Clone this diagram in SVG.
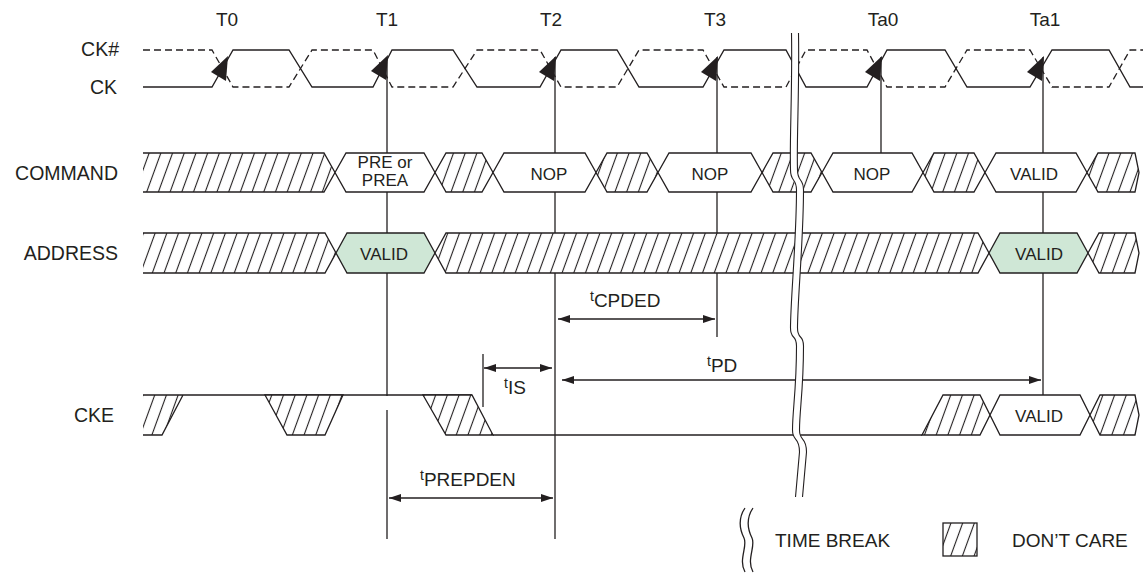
<svg xmlns="http://www.w3.org/2000/svg" width="1143" height="573" viewBox="0 0 1143 573">
<style>
text{font-family:"Liberation Sans",Arial,sans-serif;fill:#231f20}
.lbl{font-size:19px}
.sig{font-size:19.5px;text-anchor:end}
.box{font-size:17px;text-anchor:middle}
.ln{stroke:#231f20;stroke-width:1.3;fill:none}
.hx{fill:url(#hatch);stroke:#231f20;stroke-width:1.3}
.wb{fill:#fff;stroke:#231f20;stroke-width:1.3}
.gb{fill:#cfe7d6;stroke:#231f20;stroke-width:1.3}
.dim{stroke:#231f20;stroke-width:1.3;fill:none;marker-start:url(#ah);marker-end:url(#ah)}
.ar{fill:#231f20}
</style>
<defs>
<pattern id="hatch" patternUnits="userSpaceOnUse" width="11" height="11" patternTransform="rotate(20)">
<rect width="11" height="11" fill="#fff"/>
<line x1="5.5" y1="0" x2="5.5" y2="11" stroke="#231f20" stroke-width="1.1"/>
</pattern>
<marker id="ah" viewBox="0 0 12 8" refX="12" refY="4" markerWidth="12" markerHeight="8" markerUnits="userSpaceOnUse" orient="auto-start-reverse">
<path d="M0,0 L12,4 L0,8 z" fill="#231f20"/>
</marker>
<path id="brk" d="M795,33 C796,90 793,140 794,170 C794,182 800,178 800,190 C800,240 794,300 794,328 C794,340 800,334 800,346 C800,390 796,410 796,430 C796,442 803,436 803,452 L799,497" fill="none"/>
</defs>
<rect width="1143" height="573" fill="#fff"/>

<g id="time-labels" class="lbl" text-anchor="middle">
<text x="227" y="26">T0</text>
<text x="387" y="26">T1</text>
<text x="551" y="26">T2</text>
<text x="715" y="26">T3</text>
<text x="883" y="26">Ta0</text>
<text x="1045" y="26">Ta1</text>
</g>

<g id="signal-labels" class="sig">
<text x="119" y="56">CK#</text>
<text x="117" y="94">CK</text>
<text x="118" y="180">COMMAND</text>
<text x="118" y="260">ADDRESS</text>
<text x="114" y="422">CKE</text>
</g>

<g id="connectors">
<path class="ln" d="M387,57 V396 M387,410 V539"/>
<path class="ln" d="M555,57 V539"/>
<path class="ln" d="M717,57 V337"/>
<path class="ln" d="M881,57 V153"/>
<path class="ln" d="M1043,57 V395"/>
<path class="ln" d="M483,354 V407"/>
<path class="dim" d="M558,319 H715"/>
<path class="dim" d="M562,380 H1041"/>
<path class="dim" d="M484,368 H552"/>
<path class="dim" d="M389,498 H553"/>
</g>

<g id="clock">
<path class="ln" d="M143,87 H212 L233,50 H289 L312,87 H373 L392,50 H453 L477,87 H540 L561,50 H617 L639,87 H703 L724,50 H786 L806,87 H867 L887,50 H945 L967,87 H1030 L1052,50 H1109 L1130,87 H1143"/>
<path class="ln" stroke-dasharray="7,4" d="M143,50 H212 L233,87 H289 L312,50 H373 L392,87 H453 L477,50 H540 L561,87 H617 L639,50 H703 L724,87 H786 L806,50 H867 L887,87 H945 L967,50 H1030 L1052,87 H1109 L1130,50 H1143"/>
<polygon class="ar" points="228,56 211,72 226,81"/>
<polygon class="ar" points="388,55 371,71 386,80"/>
<polygon class="ar" points="556,56 539,72 554,81"/>
<polygon class="ar" points="718,56 701,72 716,81"/>
<polygon class="ar" points="882,56 865,72 880,81"/>
<polygon class="ar" points="1044,56 1027,72 1042,81"/>
</g>

<g id="command">
<polygon points="143,153 324,153 335,172.5 324,192 143,192" fill="url(#hatch)"/>
<polyline class="ln" points="143,153 324,153 335,172.5 324,192 143,192"/>
<polygon class="wb" points="335,172.5 346,153 424,153 435,172.5 424,192 346,192"/>
<polygon class="hx" points="435,172.5 446,153 482,153 493,172.5 482,192 446,192"/>
<polygon class="wb" points="493,172.5 504,153 585,153 596,172.5 585,192 504,192"/>
<polygon class="hx" points="596,172.5 607,153 647,153 658,172.5 647,192 607,192"/>
<polygon class="wb" points="658,172.5 669,153 751,153 762,172.5 751,192 669,192"/>
<polygon class="hx" points="762,172.5 773,153 811,153 822,172.5 811,192 773,192"/>
<polygon class="wb" points="822,172.5 833,153 912,153 923,172.5 912,192 833,192"/>
<polygon class="hx" points="923,172.5 934,153 974,153 985,172.5 974,192 934,192"/>
<polygon class="wb" points="985,172.5 996,153 1076,153 1087,172.5 1076,192 996,192"/>
<polygon class="hx" points="1087,172.5 1098,153 1135,153 1139,172.5 1135,192 1098,192"/>
<text class="box" x="385" font-size="15"><tspan x="385" y="168">PRE or</tspan><tspan x="385" y="186">PREA</tspan></text>
<text class="box" x="549" y="180">NOP</text>
<text class="box" x="710" y="180">NOP</text>
<text class="box" x="872" y="180">NOP</text>
<text class="box" x="1034" y="180">VALID</text>
</g>

<g id="address">
<polygon points="143,233 325,233 336,253 325,273 143,273" fill="url(#hatch)"/>
<polyline class="ln" points="143,233 325,233 336,253 325,273 143,273"/>
<polygon class="gb" points="336,253 347,233 424,233 435,253 424,273 347,273"/>
<polygon class="hx" points="435,253 446,233 978,233 989,253 978,273 446,273"/>
<polygon class="gb" points="989,253 1000,233 1077,233 1088,253 1077,273 1000,273"/>
<polygon class="hx" points="1088,253 1099,233 1135,233 1139,253 1135,273 1099,273"/>
<text class="box" x="384" y="260">VALID</text>
<text class="box" x="1039" y="260">VALID</text>
</g>

<g id="cke">
<polygon points="143,395 183,395 162,435 143,435" fill="url(#hatch)"/>
<path class="ln" d="M143,395 H472 M183,395 L162,435 H143"/>
<polygon class="hx" points="265,395 343,395 325,435 287,435"/>
<polygon class="hx" points="423,395 472,395 493,435 446,435"/>
<path class="ln" d="M493,435 H922"/>
<polygon class="hx" points="922,435 943,395 980,395 990,415 980,435"/>
<polygon class="wb" points="990,415 1000,395 1080,395 1090,415 1080,435 1000,435"/>
<polygon class="hx" points="1090,415 1100,395 1135,395 1139,415 1135,435 1100,435"/>
<text class="box" x="1039" y="422">VALID</text>
</g>

<g id="timing-labels" class="lbl">
<text x="590" y="307"><tspan font-size="14" dy="-6">t</tspan><tspan dy="6">CPDED</tspan></text>
<text x="707" y="372"><tspan font-size="14" dy="-6">t</tspan><tspan dy="6">PD</tspan></text>
<text x="504" y="394"><tspan font-size="14" dy="-6">t</tspan><tspan dy="6">IS</tspan></text>
<text x="420" y="486"><tspan font-size="14" dy="-6">t</tspan><tspan dy="6">PREPDEN</tspan></text>
</g>

<g id="time-break">
<use href="#brk" stroke="#fff" stroke-width="7"/>
<use href="#brk" transform="translate(-3.5,0)" stroke="#231f20" stroke-width="1.1"/>
<use href="#brk" transform="translate(3.5,0)" stroke="#231f20" stroke-width="1.1"/>
</g>

<g id="legend">
<path class="ln" stroke-width="1.1" d="M745,508 C737,520 740,530 744,538 C748,546 738,560 745,572 M753,508 C745,520 748,530 752,538 C756,546 746,560 753,572"/>
<text class="lbl" x="775" y="547">TIME BREAK</text>
<rect x="943" y="523" width="34" height="33" class="hx"/>
<text class="lbl" x="1012" y="547">DON’T CARE</text>
</g>
</svg>
